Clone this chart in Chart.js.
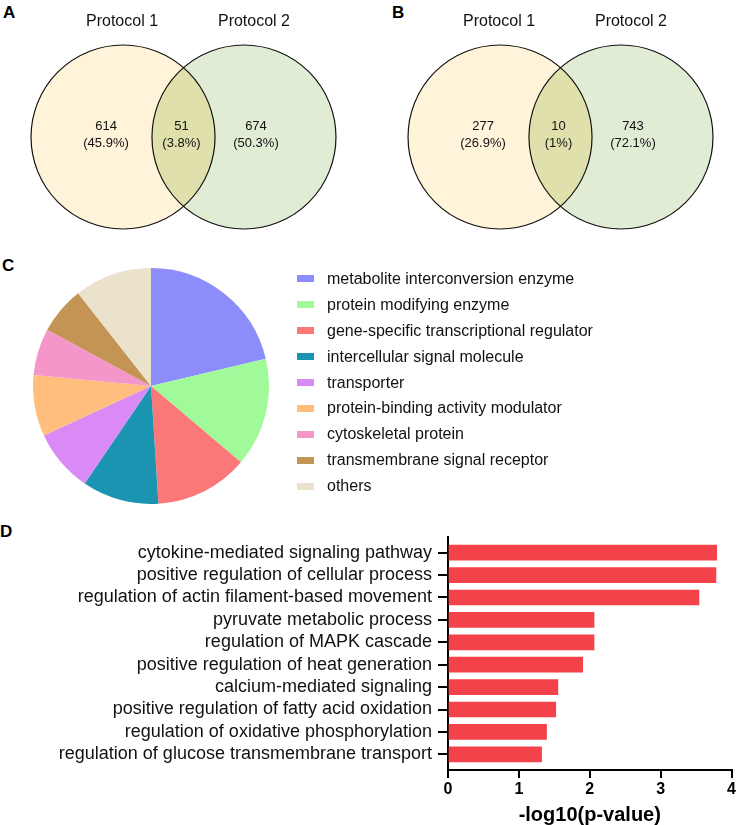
<!DOCTYPE html>
<html>
<head>
<meta charset="utf-8">
<script src="https://cdn.jsdelivr.net/npm/chart.js@4.4.0/dist/chart.umd.min.js"></script>
<style>
  html, body { margin: 0; padding: 0; background: #fff; }
  #fig { position: relative; width: 738px; height: 825px; overflow: hidden; font-family: 'Liberation Sans', Arial, sans-serif; color: #111; }
  #fig canvas { position: absolute; }
  .painel { position: absolute; font-weight: bold; font-size: 17px; line-height: 1; color: #000; }
  #legenda { position: absolute; left: 297px; top: 266px; }
  .item { display: flex; align-items: center; height: 25.9px; font-size: 16px; white-space: nowrap; }
  .cor { width: 17px; height: 7px; margin-right: 13px; flex: none; }
</style>
</head>
<body>
<div id="fig">
  <div class="painel" style="left:3px;top:4px">A</div>
  <div class="painel" style="left:392px;top:4px">B</div>
  <div class="painel" style="left:2px;top:257px">C</div>
  <div class="painel" style="left:0;top:523px">D</div>
  <canvas id="venn-a" width="363" height="274" style="left:2px;top:0"></canvas>
  <canvas id="venn-b" width="363" height="274" style="left:379px;top:0"></canvas>
  <canvas id="pizza" width="236" height="236" style="left:33px;top:268px"></canvas>
  <div id="legenda"></div>
  <canvas id="barras" width="738" height="305" style="left:0;top:520px"></canvas>
</div>
<script>
// ── Dados ─────────────────────────────────────────────
const conjuntos = ['Protocol 1', 'Protocol 2'];
const contagemA = [614, 51, 674];   // só 1, ambos, só 2
const contagemB = [277, 10, 743];

const classes = [
  'metabolite interconversion enzyme',
  'protein modifying enzyme',
  'gene-specific transcriptional regulator',
  'intercellular signal molecule',
  'transporter',
  'protein-binding activity modulator',
  'cytoskeletal protein',
  'transmembrane signal receptor',
  'others',
];
const fracoes = [21.3, 14.9, 12.8, 10.5, 8.6, 8.4, 6.4, 6.5, 10.6];

const termosGO = [
  'cytokine-mediated signaling pathway',
  'positive regulation of cellular process',
  'regulation of actin filament-based movement',
  'pyruvate metabolic process',
  'regulation of MAPK cascade',
  'positive regulation of heat generation',
  'calcium-mediated signaling',
  'positive regulation of fatty acid oxidation',
  'regulation of oxidative phosphorylation',
  'regulation of glucose transmembrane transport',
];
const log10p = [3.79, 3.78, 3.54, 2.06, 2.06, 1.90, 1.55, 1.52, 1.39, 1.32];
const ticksX = [0, 1, 2, 3, 4];

// ── Paleta ────────────────────────────────────────────
const COR = {
  p1: '#FFF4D9',
  p2: '#E1ECD5',
  ambos: '#DFE0AC',
  barra: '#F4424A',
};
const coresPizza = ['#8C8CFA', '#A0FA9A', '#FA7878', '#1A94B0', '#D98AF5', '#FFBE7D', '#F596CB', '#C49455', '#EAE2CA'];

Chart.defaults.font.family = "'Liberation Sans', Arial, sans-serif";
Chart.defaults.color = '#111';
Chart.defaults.animation = false;

function fmtPct(v, total) {
  return '(' + (Math.round(v / total * 1000) / 10) + '%)';
}

// desenha a interseção, os contornos e os textos do Venn
const vennPlugin = {
  id: 'venn',
  afterDatasetsDraw(chart) {
    const { ctx } = chart;
    const [a, b] = chart.getDatasetMeta(0).data;
    const ra = a.options.radius, rb = b.options.radius;
    const cont = chart.options.plugins.venn.contagem;
    const total = cont.reduce((s, v) => s + v, 0);

    ctx.save();
    ctx.beginPath();
    ctx.arc(a.x, a.y, ra, 0, Math.PI * 2);
    ctx.clip();
    ctx.beginPath();
    ctx.arc(b.x, b.y, rb, 0, Math.PI * 2);
    ctx.fillStyle = COR.ambos;
    ctx.fill();
    ctx.restore();

    ctx.save();
    ctx.strokeStyle = '#111';
    ctx.lineWidth = 1.2;
    [[a, ra], [b, rb]].forEach(([e, r]) => { ctx.beginPath(); ctx.arc(e.x, e.y, r, 0, Math.PI * 2); ctx.stroke(); });

    ctx.fillStyle = '#111';
    ctx.textAlign = 'center';
    ctx.textBaseline = 'middle';
    ctx.font = "16px 'Liberation Sans', Arial, sans-serif";
    ctx.fillText(conjuntos[0], a.x - 1, 22);
    ctx.fillText(conjuntos[1], b.x + 10, 22);

    const xs = [a.x - 17, (a.x + b.x) / 2 - 2, b.x + 12];
    ctx.font = "13px 'Liberation Sans', Arial, sans-serif";
    cont.forEach((v, i) => {
      ctx.fillText(String(v), xs[i], a.y - 11);
      ctx.fillText(fmtPct(v, total), xs[i], a.y + 6);
    });
    ctx.restore();
  }
};

// o bubble reserva o raio como margem em volta da área do gráfico,
// por isso a escala x vai só de -0.24 a 1.24
function venn(id, contagem) {
  return new Chart(document.getElementById(id), {
    type: 'bubble',
    data: {
      datasets: [{
        data: conjuntos.map((_, i) => ({ x: i, y: 0 })),
        backgroundColor: [COR.p1, COR.p2],
        borderWidth: 0,
        radius: 92,
        hoverRadius: 0,
        clip: false,
      }],
    },
    options: {
      responsive: false,
      events: [],
      layout: { padding: 0 },
      plugins: { legend: { display: false }, tooltip: { enabled: false }, venn: { contagem } },
      scales: {
        x: { display: false, min: -0.24, max: 1.24 },
        y: { display: false, min: -1, max: 1 },
      },
    },
    plugins: [vennPlugin],
  });
}

venn('venn-a', contagemA);
venn('venn-b', contagemB);

// ── C: pizza ──────────────────────────────────────────
new Chart(document.getElementById('pizza'), {
  type: 'pie',
  data: {
    labels: classes,
    datasets: [{ data: fracoes, backgroundColor: coresPizza, borderWidth: 0, hoverOffset: 0 }],
  },
  options: {
    responsive: false,
    events: [],
    layout: { padding: 0 },
    plugins: { legend: { display: false }, tooltip: { enabled: false } },
  },
});

document.getElementById('legenda').innerHTML = classes.map((c, i) =>
  `<div class="item"><span class="cor" style="background:${coresPizza[i]}"></span>${c}</div>`
).join('');

// ── D: barras ─────────────────────────────────────────
new Chart(document.getElementById('barras'), {
  type: 'bar',
  data: {
    datasets: [{
      data: log10p.map((v, i) => ({ x: v, y: i })),
      backgroundColor: COR.barra,
      barThickness: 15,
    }],
  },
  options: {
    indexAxis: 'y',
    responsive: false,
    events: [],
    layout: { padding: { top: 17, right: 6, left: 0, bottom: 0 } },
    plugins: { legend: { display: false }, tooltip: { enabled: false } },
    scales: {
      y: {
        type: 'linear',
        min: -0.7,
        max: 9.7,
        offset: false,
        reverse: true,
        afterBuildTicks: s => { s.ticks = termosGO.map((_, i) => ({ value: i })); },
        afterFit: s => { s.width = 448; },
        ticks: { autoSkip: false, padding: 6, color: '#111', font: { size: 18 }, callback: v => termosGO[v] },
        grid: { offset: false, drawOnChartArea: false, drawTicks: true, tickLength: 10, color: '#000', lineWidth: 2 },
        border: { display: true, color: '#000', width: 2 },
      },
      x: {
        type: 'linear',
        min: ticksX[0],
        max: ticksX[ticksX.length - 1],
        afterBuildTicks: s => { s.ticks = ticksX.map(v => ({ value: v })); },
        afterFit: s => { s.height = 55; },
        ticks: { padding: 2, color: '#000', font: { size: 16, weight: 'bold' } },
        grid: { drawOnChartArea: false, drawTicks: true, tickLength: 8, color: '#000', lineWidth: 2 },
        border: { display: true, color: '#000', width: 2 },
        title: {
          display: true,
          text: '-log10(p-value)',
          color: '#000',
          font: { size: 20, weight: 'bold', lineHeight: 1 },
          padding: { top: 0, bottom: 0 },
        },
      },
    },
  },
});
</script>
</body>
</html>
